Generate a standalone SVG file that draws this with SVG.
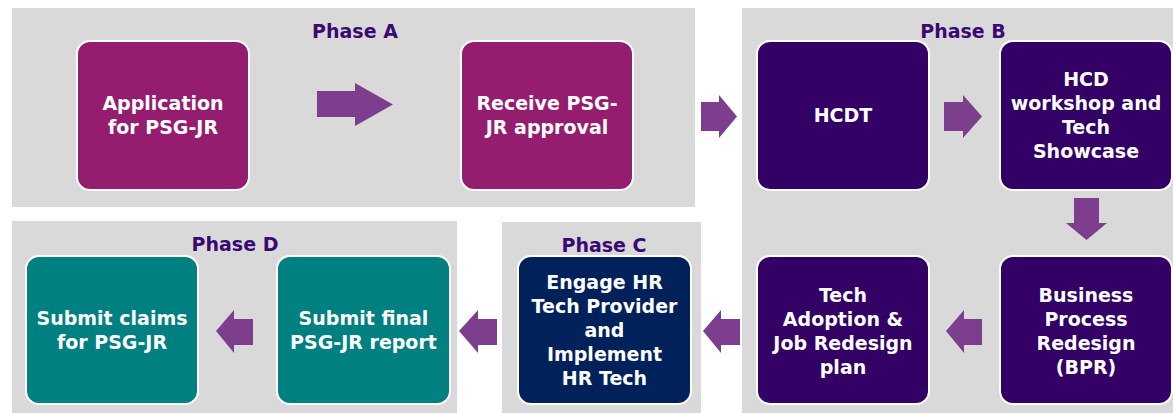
<svg xmlns="http://www.w3.org/2000/svg" width="1173" height="413" viewBox="0 0 1173 413">
<style>
.panel{fill:#d9d9d9}
.box{stroke:#ffffff;stroke-width:2}
.a{fill:#951d6f}.b{fill:#330066}.c{fill:#00215a}.d{fill:#008080}
.t{font-family:"DejaVu Sans",sans-serif;font-weight:bold;font-size:19px;fill:#ffffff;text-anchor:middle}
.ph{font-family:"DejaVu Sans",sans-serif;font-weight:bold;font-size:19px;fill:#3a0a73;text-anchor:middle}
.arr{fill:#7d3f8d}
</style>
<rect width="1173" height="413" fill="#ffffff"/>
<g id="panels">
<rect class="panel" x="12" y="8" width="683" height="199"/>
<rect class="panel" x="742" y="8" width="431" height="405"/>
<rect class="panel" x="12" y="221" width="445" height="192"/>
<rect class="panel" x="502" y="222" width="199" height="191"/>
<text class="ph" x="355" y="38">Phase A</text>
<text class="ph" x="963" y="38">Phase B</text>
<text class="ph" x="604" y="252">Phase C</text>
<text class="ph" x="235" y="251">Phase D</text>
</g>
<g id="n-application">
<rect class="box a" x="77" y="41" width="172" height="149" rx="13"/>
<text class="t" x="163" y="110">Application</text>
<text class="t" x="163" y="134">for PSG-JR</text>
</g>
<g id="n-receive">
<rect class="box a" x="461" y="41" width="172" height="149" rx="13"/>
<text class="t" x="547" y="110">Receive PSG-</text>
<text class="t" x="547" y="134">JR approval</text>
</g>
<g id="n-hcdt">
<rect class="box b" x="757" y="41" width="172" height="149" rx="13"/>
<text class="t" x="843" y="122">HCDT</text>
</g>
<g id="n-hcd">
<rect class="box b" x="1000" y="41" width="172" height="149" rx="13"/>
<text class="t" x="1086" y="86">HCD</text>
<text class="t" x="1086" y="110">workshop and</text>
<text class="t" x="1086" y="134">Tech</text>
<text class="t" x="1086" y="158">Showcase</text>
</g>
<g id="n-bpr">
<rect class="box b" x="1000" y="256" width="172" height="148" rx="13"/>
<text class="t" x="1086" y="302">Business</text>
<text class="t" x="1086" y="326">Process</text>
<text class="t" x="1086" y="350">Redesign</text>
<text class="t" x="1086" y="374">(BPR)</text>
</g>
<g id="n-techadoption">
<rect class="box b" x="757" y="256" width="172" height="148" rx="13"/>
<text class="t" x="843" y="302">Tech</text>
<text class="t" x="843" y="326">Adoption &amp;</text>
<text class="t" x="843" y="350">Job Redesign</text>
<text class="t" x="843" y="374">plan</text>
</g>
<g id="n-engage">
<rect class="box c" x="518" y="256" width="173" height="148" rx="13"/>
<text class="t" x="604.5" y="289">Engage HR</text>
<text class="t" x="604.5" y="313">Tech Provider</text>
<text class="t" x="604.5" y="337">and</text>
<text class="t" x="604.5" y="361">Implement</text>
<text class="t" x="604.5" y="385">HR Tech</text>
</g>
<g id="n-report">
<rect class="box d" x="277" y="256" width="173" height="148" rx="13"/>
<text class="t" x="363.5" y="325">Submit final</text>
<text class="t" x="363.5" y="349">PSG-JR report</text>
</g>
<g id="n-claims">
<rect class="box d" x="26" y="256" width="172" height="148" rx="13"/>
<text class="t" x="112" y="325">Submit claims</text>
<text class="t" x="112" y="349">for PSG-JR</text>
</g>
<g id="connectors">
<polygon class="arr" points="317,91 355,91 355,83 393,104.5 355,126 355,117 317,117"/>
<polygon class="arr" points="701,102 719,102 719,95 737,116.5 719,138 719,131 701,131"/>
<polygon class="arr" points="944,102 963,102 963,95 982,116.5 963,138 963,131 944,131"/>
<polygon class="arr" points="1074,198 1099,198 1099,223 1107,223 1086.5,240 1066,223 1074,223"/>
<polygon class="arr" points="982,319 964,319 964,310 946,331 964,353 964,345 982,345"/>
<polygon class="arr" points="740,319 721,319 721,310 703,331 721,353 721,345 740,345"/>
<polygon class="arr" points="497,319 478,319 478,310 459,331 478,353 478,345 497,345"/>
<polygon class="arr" points="253,319 234,319 234,310 216,331 234,353 234,345 253,345"/>
</g>
</svg>
